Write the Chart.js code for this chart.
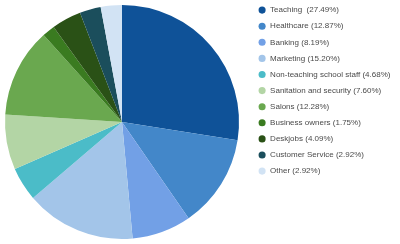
<!DOCTYPE html>
<html>
<head>
<meta charset="utf-8">
<script src="https://cdn.jsdelivr.net/npm/chart.js@4.4.0/dist/chart.umd.min.js"></script>
<style>
  html, body { margin: 0; padding: 0; background: #fff; }
  #wrap { width: 400px; height: 244px; }
</style>
</head>
<body>
<div id="wrap"><canvas id="myChart" width="400" height="244"></canvas></div>
<script>
var categories = ['Teaching ', 'Healthcare', 'Banking', 'Marketing', 'Non-teaching school staff',
    'Sanitation and security', 'Salons', 'Business owners', 'Deskjobs', 'Customer Service', 'Other'];
var shares = [27.49, 12.87, 8.19, 15.20, 4.68, 7.60, 12.28, 1.75, 4.09, 2.92, 2.92];
var sliceColors = ['#0f5298', '#4387c9', '#72a0e6', '#a3c5e9', '#4bbcc8', '#b3d5a5',
    '#6aa84f', '#3a7b20', '#2a5116', '#1b4e5c', '#d2e3f4'];

var legendLabels = categories.map(function(c, i) {
    return c + ' (' + shares[i].toFixed(2) + '%)';
});

// legend box width / offset tweaks so the pie and list sit like the original
var legendTweak = {
    id: 'legendTweak',
    beforeInit: function(chart) {
        var origFit = chart.legend.fit;
        chart.legend.fit = function() {
            origFit.call(this);
            this.width = 161;
        };
    },
    afterLayout: function(chart) {
        chart.legend.left += 11;
        chart.legend.top -= 7;
    }
};

(function() {
    var ctx = document.getElementById('myChart').getContext('2d');
    new Chart(ctx, {
        type: 'pie',
        data: {
            labels: legendLabels,
            datasets: [{
                data: shares,
                backgroundColor: sliceColors,
                borderWidth: 0
            }]
        },
        options: {
            responsive: false,
            animation: false,
            layout: { padding: { top: 5, bottom: 5, left: 5, right: 0 } },
            plugins: {
                tooltip: { enabled: false },
                legend: {
                    position: 'right',
                    align: 'start',
                    labels: {
                        usePointStyle: true,
                        pointStyle: 'circle',
                        boxWidth: 8,
                        boxHeight: 5,
                        padding: 8.1,
                        color: '#4a4a4a',
                        font: { family: 'Liberation Sans', size: 8 }
                    }
                }
            }
        },
        plugins: [legendTweak]
    });
})();
</script>
</body>
</html>
